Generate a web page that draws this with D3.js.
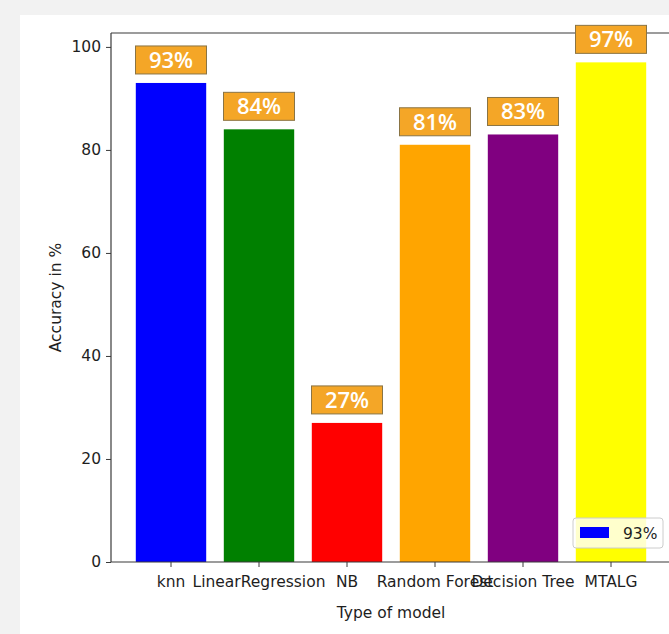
<!DOCTYPE html>
<html>
<head>
<meta charset="utf-8">
<script src="https://cdn.jsdelivr.net/npm/d3@7"></script>
<style>
  html, body { margin: 0; padding: 0; background: #f2f2f2; }
  svg { display: block; }
</style>
</head>
<body>
<svg id="chart" width="669" height="634"></svg>
<script>
// Accuracy of each model type
const models = ["knn", "LinearRegression", "NB", "Random Forest", "Decision Tree", "MTALG"];
const accuracy = [93, 84, 27, 81, 83, 97];
const barColors = ["#0000ff", "#008000", "#ff0000", "#ffa500", "#800080", "#ffff00"];
const yTicks = [0, 20, 40, 60, 80, 100];
const yLimit = 102.7;
const legendLabels = ["93%"];

const svg = d3.select("#chart");
const W = 669, H = 634;

// figure panel
svg.append("rect").attr("x", 0).attr("y", 0).attr("width", W).attr("height", H).attr("fill", "#f2f2f2");
svg.append("rect").attr("x", 20).attr("y", 15).attr("width", W - 20).attr("height", H - 15).attr("fill", "#ffffff");

// axes frame
const axLeft = 111, axRight = 672, axTop = 33, axBottom = 562;

const x = d3.scaleBand()
  .domain(models)
  .range([127, 655])
  .paddingInner(0.2)
  .paddingOuter(0.1);

const y = d3.scaleLinear().domain([0, yLimit]).range([axBottom, axTop]);

const font = "'DejaVu Sans', sans-serif";
const fontSize = "15.5px";
const textColor = "#1e1e1e";

// bars
svg.append("g").selectAll("rect")
  .data(models)
  .join("rect")
  .attr("x", d => x(d))
  .attr("width", x.bandwidth())
  .attr("y", (d, i) => y(accuracy[i]))
  .attr("height", (d, i) => y(0) - y(accuracy[i]))
  .attr("fill", (d, i) => barColors[i]);

// spines
const spines = svg.append("g").attr("stroke", "#3a3a3a").attr("stroke-width", 1.2).attr("fill", "none");
spines.append("line").attr("x1", axLeft).attr("x2", axLeft).attr("y1", axTop).attr("y2", axBottom);
spines.append("line").attr("x1", axLeft).attr("x2", axRight).attr("y1", axBottom).attr("y2", axBottom);
spines.append("line").attr("x1", axLeft).attr("x2", axRight).attr("y1", axTop).attr("y2", axTop);

// y axis
const yAxis = svg.append("g")
  .attr("transform", `translate(${axLeft},0)`)
  .call(d3.axisLeft(y).tickValues(yTicks).tickSize(5).tickPadding(5).tickFormat(d3.format("d")));
yAxis.select(".domain").remove();
yAxis.selectAll(".tick line").attr("stroke", "#3a3a3a").attr("stroke-width", 1);
yAxis.selectAll(".tick text").attr("fill", textColor).style("font-family", font).style("font-size", fontSize);

// x axis
const xAxis = svg.append("g")
  .attr("transform", `translate(0,${axBottom})`)
  .call(d3.axisBottom(x).tickSize(5).tickPadding(9));
xAxis.select(".domain").remove();
xAxis.selectAll(".tick line").attr("stroke", "#3a3a3a").attr("stroke-width", 1);
xAxis.selectAll(".tick text").attr("fill", textColor).style("font-family", font).style("font-size", fontSize);

// axis titles
svg.append("text")
  .attr("x", (axLeft + 672) / 2 - 0.5)
  .attr("y", 618)
  .attr("text-anchor", "middle")
  .attr("fill", textColor)
  .style("font-family", font).style("font-size", fontSize)
  .text("Type of model");

svg.append("text")
  .attr("transform", `translate(61,${(axTop + axBottom) / 2}) rotate(-90)`)
  .attr("text-anchor", "middle")
  .attr("fill", textColor)
  .style("font-family", font).style("font-size", fontSize)
  .text("Accuracy in %");

// value labels in boxes above each bar
const boxW = 71, boxH = 28;
const labels = svg.append("g").selectAll("g")
  .data(models)
  .join("g")
  .attr("transform", (d, i) => `translate(${x(d) + x.bandwidth() / 2},${y(accuracy[i]) - 9 - boxH / 2})`);
labels.append("rect")
  .attr("x", -boxW / 2).attr("y", -boxH / 2)
  .attr("width", boxW).attr("height", boxH)
  .attr("fill", "#f4a627")
  .attr("stroke", "#8a7444").attr("stroke-width", 1);
labels.append("text")
  .attr("text-anchor", "middle")
  .attr("dy", "0.36em")
  .attr("fill", "#ffffff")
  .style("font-family", "'Open Sans', Lato, sans-serif")
  .style("font-weight", "600")
  .style("font-size", "22px")
  .text((d, i) => accuracy[i] + "%");

// legend
const legend = svg.append("g").attr("transform", "translate(573,518)");
legend.append("rect")
  .attr("width", 90).attr("height", 30).attr("rx", 3)
  .attr("fill", "#ffffff").attr("fill-opacity", 0.8)
  .attr("stroke", "#cccccc").attr("stroke-width", 1);
legendLabels.forEach((lab, i) => {
  legend.append("rect")
    .attr("x", 7).attr("y", 9 + i * 20).attr("width", 29).attr("height", 11)
    .attr("fill", barColors[i]);
  legend.append("text")
    .attr("x", 50).attr("y", 15 + i * 20).attr("dy", "0.36em")
    .attr("fill", textColor)
    .style("font-family", font).style("font-size", fontSize)
    .text(lab);
});
</script>
</body>
</html>
